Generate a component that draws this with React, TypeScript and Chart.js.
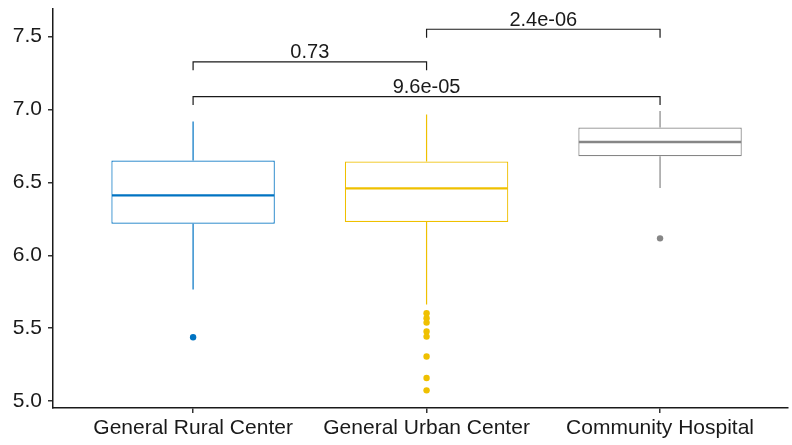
import React, { useEffect, useRef } from 'react';
import { Chart, registerables } from 'chart.js';

Chart.register(...registerables);

const categories = ['General Rural Center', 'General Urban Center', 'Community Hospital'];
const groupColors = ['#0073C2', '#EFC000', '#868686'];
const q1Values = [6.217, 6.228, 6.68];
const medianValues = [6.411, 6.459, 6.777];
const q3Values = [6.65, 6.644, 6.877];
const whiskerLow = [5.765, 5.662, 6.461];
const whiskerHigh = [6.918, 6.966, 6.99];
const outliersRural = [5.438];
const outliersUrban = [5.603, 5.568, 5.538, 5.477, 5.442, 5.305, 5.158, 5.073];
const outliersHospital = [6.116];
const yTickValues = [5.0, 5.5, 6.0, 6.5, 7.0, 7.5];

const comparisonFrom = [1, 1, 2];
const comparisonTo = [2, 3, 3];
const comparisonY = [7.327, 7.089, 7.551];
const comparisonLabels = ['0.73', '9.6e-05', '2.4e-06'];

const TIP = 0.058;
const FONT = "'Liberation Sans', Arial, sans-serif";

const boxParts = {
  id: 'boxParts',
  afterDatasetsDraw(chart: any) {
    const ctx = chart.ctx;
    const ys = chart.scales.y;
    const xs = chart.scales.x;
    const meta = chart.getDatasetMeta(0);
    ctx.save();
    meta.data.forEach((bar: any, i: number) => {
      const { x, width } = bar.getProps(['x', 'width'], true);
      ctx.strokeStyle = groupColors[i];
      ctx.lineWidth = 1.2;
      ctx.beginPath();
      ctx.moveTo(x, ys.getPixelForValue(q3Values[i]));
      ctx.lineTo(x, ys.getPixelForValue(whiskerHigh[i]));
      ctx.moveTo(x, ys.getPixelForValue(q1Values[i]));
      ctx.lineTo(x, ys.getPixelForValue(whiskerLow[i]));
      ctx.stroke();
      ctx.lineWidth = 2.4;
      const ym = ys.getPixelForValue(medianValues[i]);
      ctx.beginPath();
      ctx.moveTo(x - width / 2 + 0.6, ym);
      ctx.lineTo(x + width / 2 - 0.6, ym);
      ctx.stroke();
    });
    // significance brackets
    ctx.strokeStyle = '#1a1a1a';
    ctx.lineWidth = 1.2;
    ctx.fillStyle = '#1a1a1a';
    ctx.font = `20px ${FONT}`;
    ctx.textAlign = 'center';
    ctx.textBaseline = 'alphabetic';
    comparisonY.forEach((yv, i) => {
      const x1 = xs.getPixelForValue(comparisonFrom[i]);
      const x2 = xs.getPixelForValue(comparisonTo[i]);
      const y = ys.getPixelForValue(yv);
      const yt = ys.getPixelForValue(yv - TIP);
      ctx.beginPath();
      ctx.moveTo(x1, yt);
      ctx.lineTo(x1, y);
      ctx.lineTo(x2, y);
      ctx.lineTo(x2, yt);
      ctx.stroke();
      ctx.fillText(comparisonLabels[i], (x1 + x2) / 2, y - 3.5);
    });
    ctx.restore();
  },
};

export default function App() {
  const ref = useRef<HTMLCanvasElement | null>(null);
  useEffect(() => {
    document.body.style.margin = '0';
    const canvas = ref.current;
    if (!canvas) return;
    const outlierSets = [outliersRural, outliersUrban, outliersHospital].map((arr, i) => ({
      type: 'scatter' as const,
      data: arr.map((v) => ({ x: i + 1, y: v })),
      backgroundColor: groupColors[i],
      borderWidth: 0,
      pointRadius: 3.2,
    }));
    const chart = new Chart(canvas, {
      type: 'bar',
      data: {
        datasets: [
          {
            type: 'bar',
            data: categories.map((_, i) => ({ x: i + 1, y: [q1Values[i], q3Values[i]] })) as any,
            backgroundColor: '#ffffff',
            borderColor: groupColors,
            borderWidth: 1.2,
            borderSkipped: false,
            categoryPercentage: 1,
            barPercentage: 0.7,
          } as any,
          ...(outlierSets as any),
        ],
      },
      options: {
        responsive: false,
        animation: false,
        layout: { padding: { top: 9, right: 0, left: 0, bottom: 0 } },
        plugins: { legend: { display: false }, tooltip: { enabled: false } },
        scales: {
          x: {
            type: 'linear',
            offset: false,
            min: 0.4,
            max: 3.548,
            afterBuildTicks: (scale: any) => {
              scale.ticks = categories.map((_, i) => ({ value: i + 1 }));
            },
            afterFit: (scale: any) => {
              scale.height = 37;
              scale.paddingLeft = 0;
              scale.paddingRight = 0;
            },
            ticks: {
              autoSkip: false,
              maxRotation: 0,
              padding: 3,
              color: '#1a1a1a',
              font: { family: FONT, size: 21 },
              callback: (v: any) => categories[Math.round(Number(v)) - 1] ?? '',
            },
            grid: { offset: false, drawOnChartArea: false, drawTicks: true, tickLength: 5, color: '#333333', lineWidth: 1.5 },
            border: { display: true, color: '#1a1a1a', width: 1.5 },
          },
          y: {
            type: 'linear',
            min: 4.952,
            max: 7.69,
            afterBuildTicks: (scale: any) => {
              scale.ticks = yTickValues.map((v) => ({ value: v }));
            },
            afterFit: (scale: any) => {
              scale.width = 53;
              scale.paddingTop = 0;
              scale.paddingBottom = 0;
            },
            ticks: {
              padding: 6,
              color: '#1a1a1a',
              font: { family: FONT, size: 21 },
              callback: (v: any) => Number(v).toFixed(1),
            },
            grid: { drawOnChartArea: false, drawTicks: true, tickLength: 5, color: '#333333', lineWidth: 1.5 },
            border: { display: true, color: '#1a1a1a', width: 1.5 },
          },
        },
      } as any,
      plugins: [boxParts],
    });
    return () => chart.destroy();
  }, []);
  return <canvas ref={ref} width={792} height={445} style={{ display: 'block' }} />;
}
